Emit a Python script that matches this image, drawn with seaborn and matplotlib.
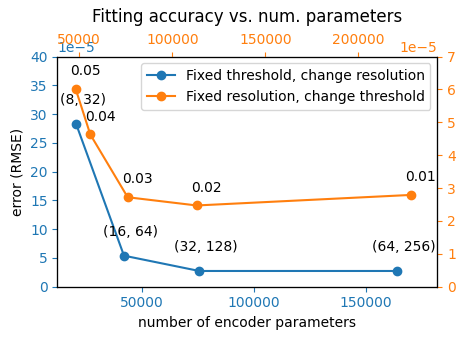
import matplotlib
matplotlib.use("Agg")
import matplotlib.pyplot as plt
from matplotlib.ticker import MultipleLocator
import seaborn as sns

# Data
res_params = [20630, 41950, 75600, 164100]
res_error = [28.2e-5, 5.39e-5, 2.73e-5, 2.73e-5]
res_labels = ["(8, 32)", "(16, 64)", "(32, 128)", "(64, 256)"]

thr_params = [48070, 55910, 76020, 113120, 228170]
thr_error = [6.01e-5, 4.63e-5, 2.72e-5, 2.47e-5, 2.79e-5]
thr_labels = ["0.05", "0.04", "0.03", "0.02", "0.01"]

blue = "#1f77b4"
orange = "#ff7f0e"

fig, ax = plt.subplots(figsize=(4.65, 3.4), dpi=100)
fig.subplots_adjust(left=0.1232, right=0.9404, bottom=0.1568, top=0.8338)

sns.lineplot(x=res_params, y=res_error, sort=False, marker="o", color=blue,
             markersize=6, markeredgecolor=blue, markeredgewidth=1,
             label="Fixed threshold, change resolution", ax=ax, legend=False)
for xv, yv, t in zip(res_params, res_error, res_labels):
    ax.annotate(t, (xv, yv), xytext=(4.7, 14.4), textcoords="offset points",
                ha="center", va="baseline", fontsize=10)

ax2 = ax.twinx()
ax3 = ax2.twiny()
sns.lineplot(x=thr_params, y=thr_error, sort=False, marker="o", color=orange,
             markersize=6, markeredgecolor=orange, markeredgewidth=1,
             label="Fixed resolution, change threshold", ax=ax3, legend=False)
for xv, yv, t in zip(thr_params, thr_error, thr_labels):
    ax3.annotate(t, (xv, yv), xytext=(7.2, 10), textcoords="offset points",
                 ha="center", va="baseline", fontsize=10)

ax.set_xlim(12137, 182007)
ax.set_ylim(0, 40e-5)
ax2.set_ylim(0, 7e-5)
ax3.set_xlim(38172, 242473)

ax.xaxis.set_major_locator(MultipleLocator(50000))
ax3.xaxis.set_major_locator(MultipleLocator(50000))
ax.yaxis.set_major_locator(MultipleLocator(5e-5))
ax2.yaxis.set_major_locator(MultipleLocator(1e-5))
ax.ticklabel_format(axis="y", style="sci", scilimits=(-5, -5))
ax2.ticklabel_format(axis="y", style="sci", scilimits=(-5, -5))
ax.ticklabel_format(axis="x", style="plain")
ax3.ticklabel_format(axis="x", style="plain")

ax.set_xlabel("number of encoder parameters")
ax.set_ylabel("error (RMSE)")
ax3.set_xlabel("")
ax3.set_ylabel("")
ax2.set_ylabel("")

ax.tick_params(axis="x", colors=blue)
ax.tick_params(axis="y", colors=blue)
ax2.tick_params(axis="y", colors=orange)
ax3.tick_params(axis="x", colors=orange)
ax.xaxis.label.set_color("black")
ax.yaxis.label.set_color("black")

ax3.set_title("Fitting accuracy vs. num. parameters", y=1.0, pad=25)

h1, l1 = ax.get_legend_handles_labels()
h3, l3 = ax3.get_legend_handles_labels()
ax3.legend(h1 + h3, l1 + l3, loc="upper right")

fig.savefig("out.png", dpi=100)
